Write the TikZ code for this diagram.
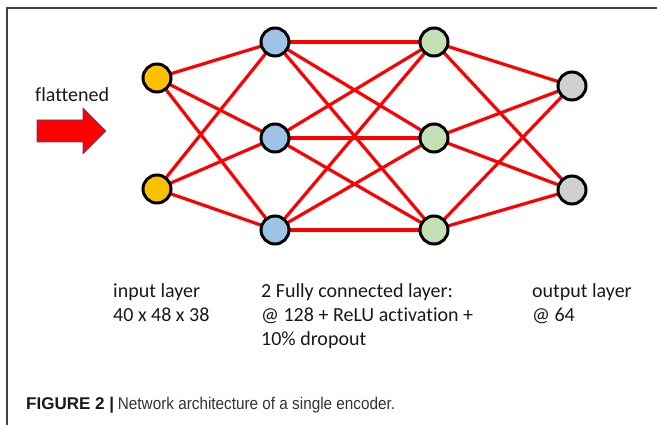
\documentclass[tikz,border=0pt]{standalone}
\usepackage{fontspec}
\setmainfont[Ligatures=NoCommon]{Carlito}
\newfontfamily\capfont{Liberation Sans}
\newfontfamily\capnarrow[FakeStretch=0.9]{Liberation Sans}
\usetikzlibrary{backgrounds}
\definecolor{inyellow}{HTML}{FFC000}
\definecolor{hidblue}{HTML}{9DC3E6}
\definecolor{hidgreen}{HTML}{C5E0B4}
\definecolor{outgray}{HTML}{D0D0D0}
\definecolor{arrowedge}{HTML}{2F528F}
\definecolor{captxt}{HTML}{333333}
\tikzset{
  neuron/.style={circle, draw=black, line width=3pt, minimum size=28pt, inner sep=0pt},
  conn/.style={draw=red, line width=3.2pt},
  lbl/.style={anchor=base west, inner sep=0pt, font=\fontsize{20}{24}\selectfont, text=black!90},
}
\begin{document}
\begin{tikzpicture}[x=1pt,y=-1pt]
\useasboundingbox (0,0) rectangle (657,425);
% frame
\draw[line width=2pt, black!75] (7,425) -- (7,8) -- (657,8);
% neurons
\node[neuron, fill=inyellow] (i1) at (157,78) {};
\node[neuron, fill=inyellow] (i2) at (157,189) {};
\node[neuron, fill=hidblue] (a1) at (275,42) {};
\node[neuron, fill=hidblue] (a2) at (275,138) {};
\node[neuron, fill=hidblue] (a3) at (275,230) {};
\node[neuron, fill=hidgreen] (b1) at (434,42) {};
\node[neuron, fill=hidgreen] (b2) at (434,138) {};
\node[neuron, fill=hidgreen] (b3) at (434,230) {};
\node[neuron, fill=outgray] (o1) at (572,86) {};
\node[neuron, fill=outgray] (o2) at (572,190) {};
\begin{scope}[on background layer]
  \foreach \s in {i1,i2}{\foreach \t in {a1,a2,a3}{\draw[conn] (\s.center) -- (\t.center);}}
  \foreach \s in {a1,a2,a3}{\foreach \t in {b1,b2,b3}{\draw[conn] (\s.center) -- (\t.center);}}
  \foreach \s in {b1,b2,b3}{\foreach \t in {o1,o2}{\draw[conn] (\s.center) -- (\t.center);}}
\end{scope}
% flattened arrow
\node[lbl] (flat) at (35,102) {flattened};
\draw[fill=red, draw=arrowedge, line width=0.6pt]
  (37,120) -- (83,120) -- (83,108) -- (106,131) -- (83,154) -- (83,142) -- (37,142) -- cycle;
% labels
\node[lbl] (inl1) at (113,298) {input layer};
\node[lbl] (inl2) at (113,321.5) {40 x 48 x 38};
\node[lbl] (fc1) at (261,298) {2 Fully connected layer:};
\node[lbl] (fc2) at (261,321.5) {@ 128 + ReLU activation +};
\node[lbl] (fc3) at (261,345) {10\% dropout};
\node[lbl] (out1) at (532,298) {output layer};
\node[lbl] (out2) at (532,321.5) {@ 64};
% caption
\node[anchor=base west, inner sep=0pt, font=\fontsize{17}{20}\selectfont] (cap) at (26,409)
  {{\capfont\bfseries\color{black!90}FIGURE 2 |} {\capnarrow\color{captxt}Network architecture of a single encoder.}};
\end{tikzpicture}
\end{document}
